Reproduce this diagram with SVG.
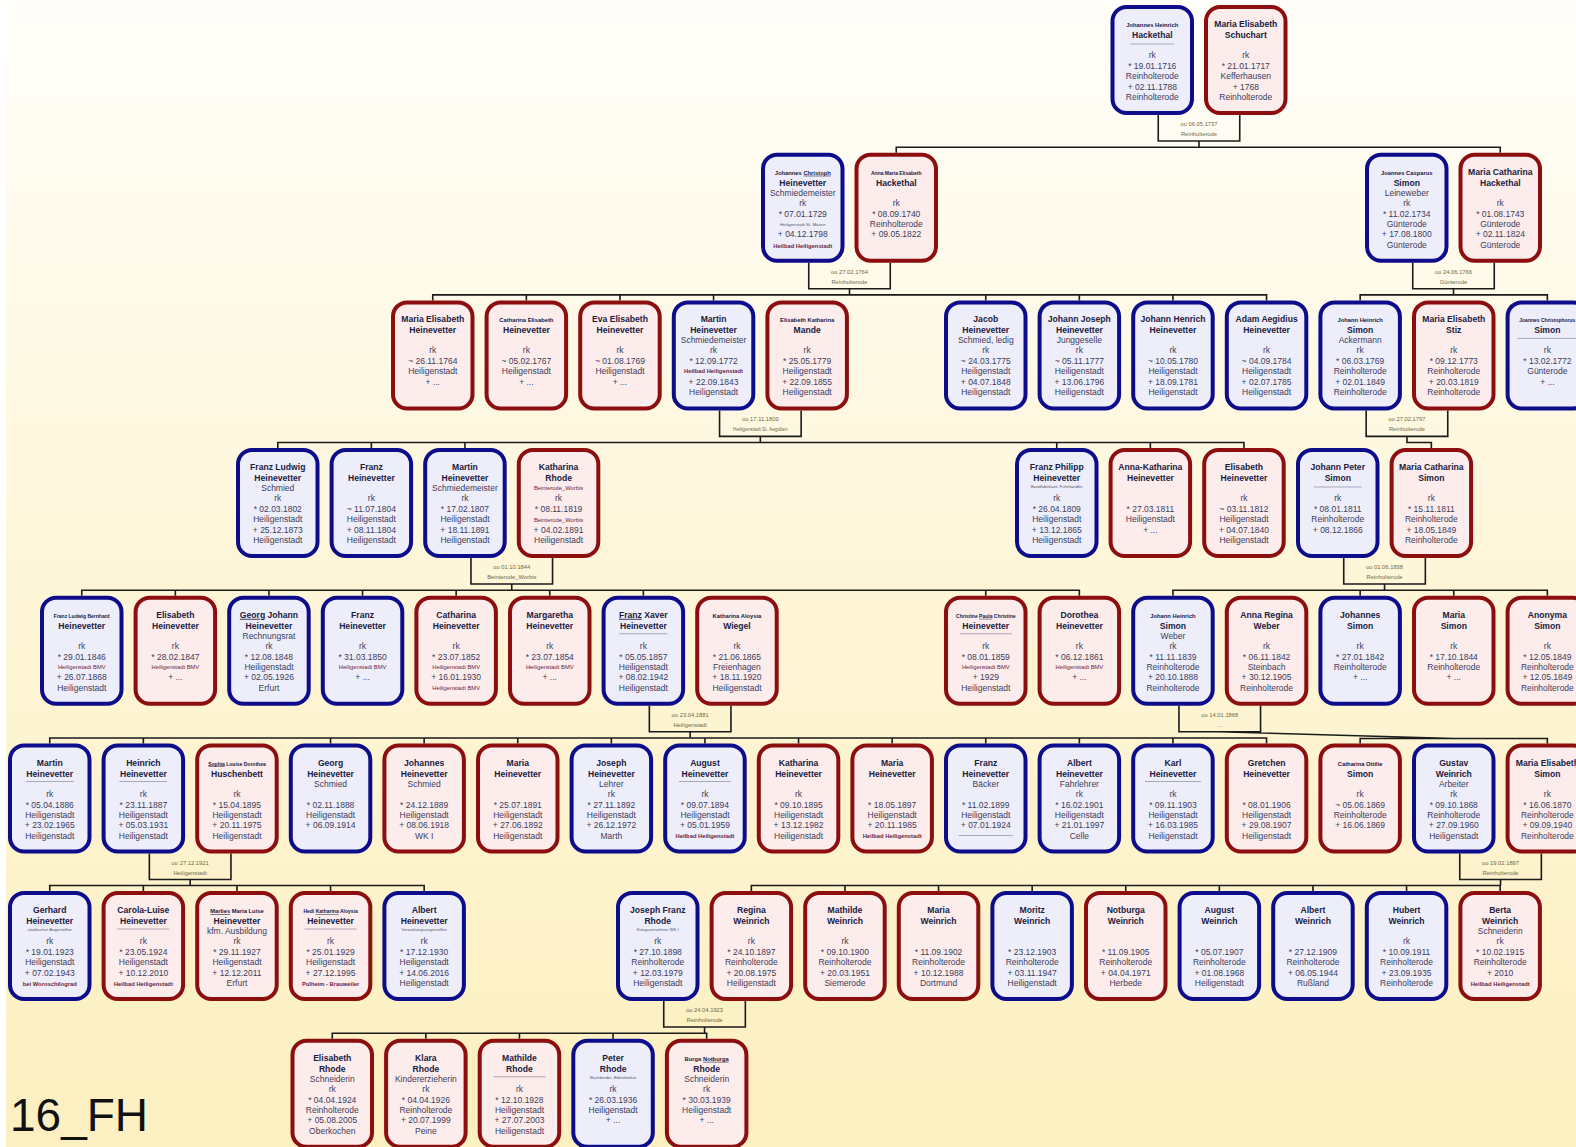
<svg xmlns="http://www.w3.org/2000/svg" width="1576" height="1147" viewBox="0 0 1576 1147">
<defs>
<linearGradient id="bg" x1="0" y1="0" x2="0" y2="1">
<stop offset="0" stop-color="#fffefa"/>
<stop offset="0.5" stop-color="#fef6d8"/>
<stop offset="1" stop-color="#fcefc0"/>
</linearGradient>
</defs>
<style>
.m rect{fill:#eeeefb;stroke:#0d0d8c;stroke-width:4}
.f rect{fill:#fcecec;stroke:#8c0e0e;stroke-width:4}
text{font-family:"Liberation Sans",Arial,sans-serif;text-anchor:middle;fill:#3c3c5a;font-size:8.5px}
.n{font-weight:bold;fill:#20203e;font-size:8.6px}
.s{font-size:5.8px}
.x{font-size:5px}
.p{font-size:5.8px;fill:#6a2444}
.t{font-size:4.3px;fill:#555566}
.u{stroke:#8a8aa0;stroke-width:0.7;fill:none}
.w{font-size:5.8px;fill:#6e6a48}
.c{fill:none;stroke:#1a1a1a;stroke-width:1.6}
.ul{text-decoration:underline}
</style>
<rect width="1576" height="1147" fill="url(#bg)"/>
<rect width="6" height="1147" fill="#ffffff"/>
<g id="connectors">
<path class="c" d="M1158.25 115V141H1239.75V115 M1199 141V147.2 M896.25 152.7V147.2H1500.25V152.7"/>
<path class="c" d="M808.75 262.7V288.7H890.25V262.7 M849.5 288.7V294.9 M432.75 300.4V294.9H1266.55V300.4 M526.35 294.9V300.4 M619.95 294.9V300.4 M713.55 294.9V300.4 M985.75 294.9V300.4 M1079.35 294.9V300.4 M1172.95 294.9V300.4 M1412.75 262.7V288.7H1494.25V262.7 M1453.5 288.7V294.9 M1360.15 300.4V294.9H1547.35V300.4"/>
<path class="c" d="M719.55 410.4V436.4H801.15V410.4 M760.35 436.4V442.5 M277.75 448V442.5H1243.95V448 M371.35 442.5V448 M464.95 442.5V448 M1056.75 442.5V448 M1150.35 442.5V448 M1366.15 410.4V436.4H1447.75V410.4 M1406.95 436.4V442.5H1431.35V448"/>
<path class="c" d="M470.95 558V584H552.55V558 M511.75 584V590.3 M81.75 595.8V590.3H1079.35V595.8 M175.35 590.3V595.8 M268.95 590.3V595.8 M362.55 590.3V595.8 M456.15 590.3V595.8 M549.75 590.3V595.8 M643.35 590.3V595.8 M985.75 590.3V595.8 M1343.75 558V584H1425.35V558 M1384.55 584V590.3 M1172.95 595.8V590.3H1547.35V595.8 M1360.15 590.3V595.8 M1453.75 590.3V595.8"/>
<path class="c" d="M649.35 705.8V731.8H730.95V705.8 M690.15 731.8V738 M49.75 743.5V738H1266.55V743.5 M143.35 738V743.5 M330.55 738V743.5 M424.15 738V743.5 M517.75 738V743.5 M611.35 738V743.5 M704.95 738V743.5 M798.55 738V743.5 M892.15 738V743.5 M985.75 738V743.5 M1079.35 738V743.5 M1172.95 738V743.5 M1178.95 705.8V731.8H1260.55V705.8 M1219.75 731.8L1453.75 738.5 M1360.15 743.5V738.5H1547.35V743.5"/>
<path class="c" d="M149.35 853.5V879.5H230.95V853.5 M190.15 879.5V885.5 M49.75 891V885.5H424.15V891 M143.35 885.5V891 M236.95 885.5V891 M330.55 885.5V891 M1459.75 853.5V879.5H1541.35V853.5 M1500.55 879.5V885.5 M751.35 891V885.5H1500.55 M844.95 885.5V891 M938.55 885.5V891 M1032.15 885.5V891 M1125.75 885.5V891 M1219.35 885.5V891 M1312.95 885.5V891 M1406.55 885.5V891 M1500.15 885.5V891"/>
<path class="c" d="M663.75 1001V1027H745.35V1001 M704.55 1027V1033.3 M332.25 1038.8V1033.3H706.65V1038.8 M425.85 1033.3V1038.8 M519.45 1033.3V1038.8 M613.05 1033.3V1038.8"/>
<g id="marriages">
<text class="w" x="1199" y="126">oo 06.05.1737</text><text class="w" x="1199" y="136">Reinholterode</text>
<text class="w" x="849.5" y="273.7">oo 27.02.1764</text><text class="w" x="849.5" y="283.7">Reinholterode</text>
<text class="w" x="1453.5" y="273.7">oo 24.06.1766</text><text class="w" x="1453.5" y="283.7">Günterode</text>
<text class="w" x="760.35" y="421.4">oo 17.11.1800</text><text class="w" x="760.35" y="431.4" style="font-size:4.8px">Heiligenstadt St. Aegidien</text>
<text class="w" x="1406.95" y="421.4">oo 27.02.1797</text><text class="w" x="1406.95" y="431.4">Reinholterode</text>
<text class="w" x="511.75" y="569">oo 01.10.1844</text><text class="w" x="511.75" y="579">Beinterode_Worbis</text>
<text class="w" x="1384.55" y="569">oo 01.06.1838</text><text class="w" x="1384.55" y="579">Reinholterode</text>
<text class="w" x="690.15" y="716.8">oo 23.04.1881</text><text class="w" x="690.15" y="726.8">Heiligenstadt</text>
<text class="w" x="1219.75" y="716.8">oo 14.01.1868</text><text class="w" x="1219.75" y="726.8">...</text>
<text class="w" x="190.15" y="864.5">oo 27.12.1921</text><text class="w" x="190.15" y="874.5">Heiligenstadt</text>
<text class="w" x="1500.55" y="864.5">oo 19.02.1897</text><text class="w" x="1500.55" y="874.5">Reinholterode</text>
<text class="w" x="704.55" y="1012">oo 24.04.1923</text><text class="w" x="704.55" y="1022">Reinholterode</text>
</g>
</g>
<!-- Row 1 -->
<g id="a1" class="m" transform="translate(1152.25,5)"><rect x="-39.75" y="2" width="79.5" height="106" rx="14"/><text class="n s" y="22">Johannes Heinrich</text><text class="n" y="33">Hackethal</text><path class="u" d="M-22 39h44"/><text y="53">rk</text><text y="64">* 19.01.1716</text><text y="74">Reinholterode</text><text y="84.5">+ 02.11.1788</text><text y="95">Reinholterode</text></g>
<g id="a2" class="f" transform="translate(1245.75,5)"><rect x="-39.75" y="2" width="79.5" height="106" rx="14"/><text class="n" y="22">Maria Elisabeth</text><text class="n" y="33">Schuchart</text><text y="53">rk</text><text y="64">* 21.01.1717</text><text y="74">Kefferhausen</text><text y="84.5">+ 1768</text><text y="95">Reinholterode</text></g>
<!-- Row 2 -->
<g id="a3" class="m" transform="translate(802.75,152.7)"><rect x="-39.75" y="2" width="79.5" height="106" rx="14"/><text class="n s" y="22">Johannes <tspan class="ul">Christoph</tspan></text><text class="n" y="33">Heinevetter</text><text y="43">Schmiedemeister</text><text y="53">rk</text><text y="64">* 07.01.1729</text><text class="t" y="73">Heiligenstadt St. Marien</text><text y="84.5">+ 04.12.1798</text><text class="p n" y="95">Heilbad Heiligenstadt</text></g>
<g id="a4" class="f" transform="translate(896.25,152.7)"><rect x="-39.75" y="2" width="79.5" height="106" rx="14"/><text class="n x" y="22">Anna Maria Elisabeth</text><text class="n" y="33">Hackethal</text><text y="53">rk</text><text y="64">* 08.09.1740</text><text y="74">Reinholterode</text><text y="84.5">+ 09.05.1822</text></g>
<g id="a5" class="m" transform="translate(1406.75,152.7)"><rect x="-39.75" y="2" width="79.5" height="106" rx="14"/><text class="n s" y="22">Joannes Casparus</text><text class="n" y="33">Simon</text><text y="43">Leineweber</text><text y="53">rk</text><text y="64">* 11.02.1734</text><text y="74">Günterode</text><text y="84.5">+ 17.08.1800</text><text y="95">Günterode</text></g>
<g id="a6" class="f" transform="translate(1500.25,152.7)"><rect x="-39.75" y="2" width="79.5" height="106" rx="14"/><text class="n" y="22">Maria Catharina</text><text class="n" y="33">Hackethal</text><text y="53">rk</text><text y="64">* 01.08.1743</text><text y="74">Günterode</text><text y="84.5">+ 02.11.1824</text><text y="95">Günterode</text></g>
<!-- Row 3 -->
<g id="b1" class="f" transform="translate(432.75,300.4)"><rect x="-39.75" y="2" width="79.5" height="106" rx="14"/><text class="n" y="22">Maria Elisabeth</text><text class="n" y="33">Heinevetter</text><text y="53">rk</text><text y="64">~ 26.11.1764</text><text y="74">Heiligenstadt</text><text y="84.5">+ ...</text></g>
<g id="b2" class="f" transform="translate(526.35,300.4)"><rect x="-39.75" y="2" width="79.5" height="106" rx="14"/><text class="n s" y="22">Catharina Elisabeth</text><text class="n" y="33">Heinevetter</text><text y="53">rk</text><text y="64">~ 05.02.1767</text><text y="74">Heiligenstadt</text><text y="84.5">+ ...</text></g>
<g id="b3" class="f" transform="translate(619.95,300.4)"><rect x="-39.75" y="2" width="79.5" height="106" rx="14"/><text class="n" y="22">Eva Elisabeth</text><text class="n" y="33">Heinevetter</text><text y="53">rk</text><text y="64">~ 01.08.1769</text><text y="74">Heiligenstadt</text><text y="84.5">+ ...</text></g>
<g id="b4" class="m" transform="translate(713.55,300.4)"><rect x="-39.75" y="2" width="79.5" height="106" rx="14"/><text class="n" y="22">Martin</text><text class="n" y="33">Heinevetter</text><text y="43">Schmiedemeister</text><text y="53">rk</text><text y="64">* 12.09.1772</text><text class="p n" y="73">Heilbad Heiligenstadt</text><text y="84.5">+ 22.09.1843</text><text y="95">Heiligenstadt</text></g>
<g id="b5" class="f" transform="translate(807.15,300.4)"><rect x="-39.75" y="2" width="79.5" height="106" rx="14"/><text class="n s" y="22">Elisabeth Katharina</text><text class="n" y="33">Mande</text><text y="53">rk</text><text y="64">* 25.05.1779</text><text y="74">Heiligenstadt</text><text y="84.5">+ 22.09.1855</text><text y="95">Heiligenstadt</text></g>
<g id="b6" class="m" transform="translate(985.75,300.4)"><rect x="-39.75" y="2" width="79.5" height="106" rx="14"/><text class="n" y="22">Jacob</text><text class="n" y="33">Heinevetter</text><text y="43">Schmied, ledig</text><text y="53">rk</text><text y="64">~ 24.03.1775</text><text y="74">Heiligenstadt</text><text y="84.5">+ 04.07.1848</text><text y="95">Heiligenstadt</text></g>
<g id="b7" class="m" transform="translate(1079.35,300.4)"><rect x="-39.75" y="2" width="79.5" height="106" rx="14"/><text class="n" y="22">Johann Joseph</text><text class="n" y="33">Heinevetter</text><text y="43">Junggeselle</text><text y="53">rk</text><text y="64">~ 05.11.1777</text><text y="74">Heiligenstadt</text><text y="84.5">+ 13.06.1796</text><text y="95">Heiligenstadt</text></g>
<g id="b8" class="m" transform="translate(1172.95,300.4)"><rect x="-39.75" y="2" width="79.5" height="106" rx="14"/><text class="n" y="22">Johann Henrich</text><text class="n" y="33">Heinevetter</text><text y="53">rk</text><text y="64">~ 10.05.1780</text><text y="74">Heiligenstadt</text><text y="84.5">+ 18.09.1781</text><text y="95">Heiligenstadt</text></g>
<g id="b9" class="m" transform="translate(1266.55,300.4)"><rect x="-39.75" y="2" width="79.5" height="106" rx="14"/><text class="n" y="22">Adam Aegidius</text><text class="n" y="33">Heinevetter</text><text y="53">rk</text><text y="64">~ 04.09.1784</text><text y="74">Heiligenstadt</text><text y="84.5">+ 02.07.1785</text><text y="95">Heiligenstadt</text></g>
<g id="b10" class="m" transform="translate(1360.15,300.4)"><rect x="-39.75" y="2" width="79.5" height="106" rx="14"/><text class="n s" y="22">Johann Heinrich</text><text class="n" y="33">Simon</text><text y="43">Ackermann</text><text y="53">rk</text><text y="64">* 06.03.1769</text><text y="74">Reinholterode</text><text y="84.5">+ 02.01.1849</text><text y="95">Reinholterode</text></g>
<g id="b11" class="f" transform="translate(1453.75,300.4)"><rect x="-39.75" y="2" width="79.5" height="106" rx="14"/><text class="n" y="22">Maria Elisabeth</text><text class="n" y="33">Stiz</text><text y="53">rk</text><text y="64">* 09.12.1773</text><text y="74">Reinholterode</text><text y="84.5">+ 20.03.1819</text><text y="95">Reinholterode</text></g>
<g id="b12" class="m" transform="translate(1547.35,300.4)"><rect x="-39.75" y="2" width="79.5" height="106" rx="14"/><text class="n x" y="22">Joannes Christophorus</text><text class="n" y="33">Simon</text><path class="u" d="M-30 38h60"/><text y="53">rk</text><text y="64">* 13.02.1772</text><text y="74">Günterode</text><text y="84.5">+ ...</text></g>
<!-- Row 4 -->
<g id="c1" class="m" transform="translate(277.75,448)"><rect x="-39.75" y="2" width="79.5" height="106" rx="14"/><text class="n" y="22">Franz Ludwig</text><text class="n" y="33">Heinevetter</text><text y="43">Schmied</text><text y="53">rk</text><text y="64">* 02.03.1802</text><text y="74">Heiligenstadt</text><text y="84.5">+ 25.12.1873</text><text y="95">Heiligenstadt</text></g>
<g id="c2" class="m" transform="translate(371.35,448)"><rect x="-39.75" y="2" width="79.5" height="106" rx="14"/><text class="n" y="22">Franz</text><text class="n" y="33">Heinevetter</text><text y="53">rk</text><text y="64">~ 11.07.1804</text><text y="74">Heiligenstadt</text><text y="84.5">+ 08.11.1804</text><text y="95">Heiligenstadt</text></g>
<g id="c3" class="m" transform="translate(464.95,448)"><rect x="-39.75" y="2" width="79.5" height="106" rx="14"/><text class="n" y="22">Martin</text><text class="n" y="33">Heinevetter</text><text y="43">Schmiedemeister</text><text y="53">rk</text><text y="64">* 17.02.1807</text><text y="74">Heiligenstadt</text><text y="84.5">+ 18.11.1891</text><text y="95">Heiligenstadt</text></g>
<g id="c4" class="f" transform="translate(558.55,448)"><rect x="-39.75" y="2" width="79.5" height="106" rx="14"/><text class="n" y="22">Katharina</text><text class="n" y="33">Rhode</text><text class="p" y="42">Beinterode_Worbis</text><text y="53">rk</text><text y="64">* 08.11.1819</text><text class="p" y="73.5">Beinterode_Worbis</text><text y="84.5">+ 04.02.1891</text><text y="95">Heiligenstadt</text></g>
<g id="c5" class="m" transform="translate(1056.75,448)"><rect x="-39.75" y="2" width="79.5" height="106" rx="14"/><text class="n" y="22">Franz Philipp</text><text class="n" y="33">Heinevetter</text><text class="t" y="40">Bandfabrikant, Fuhrhändler</text><text y="53">rk</text><text y="64">* 26.04.1809</text><text y="74">Heiligenstadt</text><text y="84.5">+ 13.12.1865</text><text y="95">Heiligenstadt</text></g>
<g id="c6" class="f" transform="translate(1150.35,448)"><rect x="-39.75" y="2" width="79.5" height="106" rx="14"/><text class="n" y="22">Anna-Katharina</text><text class="n" y="33">Heinevetter</text><text y="64">* 27.03.1811</text><text y="74">Heiligenstadt</text><text y="84.5">+ ...</text></g>
<g id="c7" class="f" transform="translate(1243.95,448)"><rect x="-39.75" y="2" width="79.5" height="106" rx="14"/><text class="n" y="22">Elisabeth</text><text class="n" y="33">Heinevetter</text><text y="53">rk</text><text y="64">~ 03.11.1812</text><text y="74">Heiligenstadt</text><text y="84.5">+ 04.07.1840</text><text y="95">Heiligenstadt</text></g>
<g id="c8" class="m" transform="translate(1337.75,448)"><rect x="-39.75" y="2" width="79.5" height="106" rx="14"/><text class="n" y="22">Johann Peter</text><text class="n" y="33">Simon</text><path class="u" d="M-24 39h48"/><text y="53">rk</text><text y="64">* 08.01.1811</text><text y="74">Reinholterode</text><text y="84.5">+ 08.12.1866</text></g>
<g id="c9" class="f" transform="translate(1431.35,448)"><rect x="-39.75" y="2" width="79.5" height="106" rx="14"/><text class="n" y="22">Maria Catharina</text><text class="n" y="33">Simon</text><text y="53">rk</text><text y="64">* 15.11.1811</text><text y="74">Reinholterode</text><text y="84.5">+ 18.05.1849</text><text y="95">Reinholterode</text></g>
<!-- Row 5 -->
<g id="d1" class="m" transform="translate(81.75,595.8)"><rect x="-39.75" y="2" width="79.5" height="106" rx="14"/><text class="n x" y="22">Franz Ludwig Bernhard</text><text class="n" y="33">Heinevetter</text><text y="53">rk</text><text y="64">* 29.01.1846</text><text class="p" y="73.5">Heiligenstadt BMV</text><text y="84.5">+ 26.07.1868</text><text y="95">Heiligenstadt</text></g>
<g id="d2" class="f" transform="translate(175.35,595.8)"><rect x="-39.75" y="2" width="79.5" height="106" rx="14"/><text class="n" y="22">Elisabeth</text><text class="n" y="33">Heinevetter</text><text y="53">rk</text><text y="64">* 28.02.1847</text><text class="p" y="73.5">Heiligenstadt BMV</text><text y="84.5">+ ...</text></g>
<g id="d3" class="m" transform="translate(268.95,595.8)"><rect x="-39.75" y="2" width="79.5" height="106" rx="14"/><text class="n" y="22"><tspan class="ul">Georg</tspan> Johann</text><text class="n" y="33">Heinevetter</text><text y="43">Rechnungsrat</text><text y="53">rk</text><text y="64">* 12.08.1848</text><text y="74">Heiligenstadt</text><text y="84.5">+ 02.05.1926</text><text y="95">Erfurt</text></g>
<g id="d4" class="m" transform="translate(362.55,595.8)"><rect x="-39.75" y="2" width="79.5" height="106" rx="14"/><text class="n" y="22">Franz</text><text class="n" y="33">Heinevetter</text><text y="53">rk</text><text y="64">* 31.03.1850</text><text class="p" y="73.5">Heiligenstadt BMV</text><text y="84.5">+ ...</text></g>
<g id="d5" class="f" transform="translate(456.15,595.8)"><rect x="-39.75" y="2" width="79.5" height="106" rx="14"/><text class="n" y="22">Catharina</text><text class="n" y="33">Heinevetter</text><text y="53">rk</text><text y="64">* 23.07.1852</text><text class="p" y="73.5">Heiligenstadt BMV</text><text y="84.5">+ 16.01.1930</text><text class="p" y="94.5">Heiligenstadt BMV</text></g>
<g id="d6" class="f" transform="translate(549.75,595.8)"><rect x="-39.75" y="2" width="79.5" height="106" rx="14"/><text class="n" y="22">Margaretha</text><text class="n" y="33">Heinevetter</text><text y="53">rk</text><text y="64">* 23.07.1854</text><text class="p" y="73.5">Heiligenstadt BMV</text><text y="84.5">+ ...</text></g>
<g id="d7" class="m" transform="translate(643.35,595.8)"><rect x="-39.75" y="2" width="79.5" height="106" rx="14"/><text class="n" y="22"><tspan class="ul">Franz</tspan> Xaver</text><text class="n" y="33">Heinevetter</text><path class="u" d="M-24 38h48"/><text y="53">rk</text><text y="64">* 05.05.1857</text><text y="74">Heiligenstadt</text><text y="84.5">+ 08.02.1942</text><text y="95">Heiligenstadt</text></g>
<g id="d8" class="f" transform="translate(736.95,595.8)"><rect x="-39.75" y="2" width="79.5" height="106" rx="14"/><text class="n s" y="22">Katharina Aloysia</text><text class="n" y="33">Wiegel</text><text y="53">rk</text><text y="64">* 21.06.1865</text><text y="74">Freienhagen</text><text y="84.5">+ 18.11.1920</text><text y="95">Heiligenstadt</text></g>
<g id="d9" class="f" transform="translate(985.75,595.8)"><rect x="-39.75" y="2" width="79.5" height="106" rx="14"/><text class="n x" y="22">Christine <tspan class="ul">Paula</tspan> Christine</text><text class="n" y="33">Heinevetter</text><path class="u" d="M-26 38h52"/><text y="53">rk</text><text y="64">* 08.01.1859</text><text class="p" y="73.5">Heiligenstadt BMV</text><text y="84.5">+ 1929</text><text y="95">Heiligenstadt</text></g>
<g id="d10" class="f" transform="translate(1079.35,595.8)"><rect x="-39.75" y="2" width="79.5" height="106" rx="14"/><text class="n" y="22">Dorothea</text><text class="n" y="33">Heinevetter</text><text y="53">rk</text><text y="64">* 06.12.1861</text><text class="p" y="73.5">Heiligenstadt BMV</text><text y="84.5">+ ...</text></g>
<g id="d11" class="m" transform="translate(1172.95,595.8)"><rect x="-39.75" y="2" width="79.5" height="106" rx="14"/><text class="n s" y="22">Johann Heinrich</text><text class="n" y="33">Simon</text><text y="43">Weber</text><text y="53">rk</text><text y="64">* 11.11.1839</text><text y="74">Reinholterode</text><text y="84.5">+ 20.10.1888</text><text y="95">Reinholterode</text></g>
<g id="d12" class="f" transform="translate(1266.55,595.8)"><rect x="-39.75" y="2" width="79.5" height="106" rx="14"/><text class="n" y="22">Anna Regina</text><text class="n" y="33">Weber</text><text y="53">rk</text><text y="64">* 06.11.1842</text><text y="74">Steinbach</text><text y="84.5">+ 30.12.1905</text><text y="95">Reinholterode</text></g>
<g id="d13" class="m" transform="translate(1360.15,595.8)"><rect x="-39.75" y="2" width="79.5" height="106" rx="14"/><text class="n" y="22">Johannes</text><text class="n" y="33">Simon</text><text y="53">rk</text><text y="64">* 27.01.1842</text><text y="74">Reinholterode</text><text y="84.5">+ ...</text></g>
<g id="d14" class="f" transform="translate(1453.75,595.8)"><rect x="-39.75" y="2" width="79.5" height="106" rx="14"/><text class="n" y="22">Maria</text><text class="n" y="33">Simon</text><text y="53">rk</text><text y="64">* 17.10.1844</text><text y="74">Reinholterode</text><text y="84.5">+ ...</text></g>
<g id="d15" class="f" transform="translate(1547.35,595.8)"><rect x="-39.75" y="2" width="79.5" height="106" rx="14"/><text class="n" y="22">Anonyma</text><text class="n" y="33">Simon</text><text y="53">rk</text><text y="64">* 12.05.1849</text><text y="74">Reinholterode</text><text y="84.5">+ 12.05.1849</text><text y="95">Reinholterode</text></g>
<!-- Row 6 -->
<g id="e0" class="m" transform="translate(49.75,743.5)"><rect x="-39.75" y="2" width="79.5" height="106" rx="14"/><text class="n" y="22">Martin</text><text class="n" y="33">Heinevetter</text><path class="u" d="M-24 38h48"/><text y="53">rk</text><text y="64">* 05.04.1886</text><text y="74">Heiligenstadt</text><text y="84.5">+ 23.02.1965</text><text y="95">Heiligenstadt</text></g>
<g id="e1" class="m" transform="translate(143.35,743.5)"><rect x="-39.75" y="2" width="79.5" height="106" rx="14"/><text class="n" y="22">Heinrich</text><text class="n" y="33">Heinevetter</text><path class="u" d="M-24 38h48"/><text y="53">rk</text><text y="64">* 23.11.1887</text><text y="74">Heiligenstadt</text><text y="84.5">+ 05.03.1931</text><text y="95">Heiligenstadt</text></g>
<g id="e2" class="f" transform="translate(236.95,743.5)"><rect x="-39.75" y="2" width="79.5" height="106" rx="14"/><text class="n x" y="22"><tspan class="ul">Sophia</tspan> Louise Dorothea</text><text class="n" y="33">Huschenbett</text><text y="53">rk</text><text y="64">* 15.04.1895</text><text y="74">Heiligenstadt</text><text y="84.5">+ 20.11.1975</text><text y="95">Heiligenstadt</text></g>
<g id="e3" class="m" transform="translate(330.55,743.5)"><rect x="-39.75" y="2" width="79.5" height="106" rx="14"/><text class="n" y="22">Georg</text><text class="n" y="33">Heinevetter</text><text y="43">Schmied</text><text y="64">* 02.11.1888</text><text y="74">Heiligenstadt</text><text y="84.5">+ 06.09.1914</text></g>
<g id="e4" class="f" transform="translate(424.15,743.5)"><rect x="-39.75" y="2" width="79.5" height="106" rx="14"/><text class="n" y="22">Johannes</text><text class="n" y="33">Heinevetter</text><text y="43">Schmied</text><text y="64">* 24.12.1889</text><text y="74">Heiligenstadt</text><text y="84.5">+ 08.06.1918</text><text y="95">WK I</text></g>
<g id="e5" class="f" transform="translate(517.75,743.5)"><rect x="-39.75" y="2" width="79.5" height="106" rx="14"/><text class="n" y="22">Maria</text><text class="n" y="33">Heinevetter</text><text y="64">* 25.07.1891</text><text y="74">Heiligenstadt</text><text y="84.5">+ 27.06.1892</text><text y="95">Heiligenstadt</text></g>
<g id="e6" class="m" transform="translate(611.35,743.5)"><rect x="-39.75" y="2" width="79.5" height="106" rx="14"/><text class="n" y="22">Joseph</text><text class="n" y="33">Heinevetter</text><text y="43">Lehrer</text><text y="53">rk</text><text y="64">* 27.11.1892</text><text y="74">Heiligenstadt</text><text y="84.5">+ 26.12.1972</text><text y="95">Marth</text></g>
<g id="e7" class="m" transform="translate(704.95,743.5)"><rect x="-39.75" y="2" width="79.5" height="106" rx="14"/><text class="n" y="22">August</text><text class="n" y="33">Heinevetter</text><path class="u" d="M-26 38h52"/><text y="53">rk</text><text y="64">* 09.07.1894</text><text y="74">Heiligenstadt</text><text y="84.5">+ 05.01.1959</text><text class="p n" y="94.5">Heilbad Heiligenstadt</text></g>
<g id="e8" class="f" transform="translate(798.55,743.5)"><rect x="-39.75" y="2" width="79.5" height="106" rx="14"/><text class="n" y="22">Katharina</text><text class="n" y="33">Heinevetter</text><text y="53">rk</text><text y="64">* 09.10.1895</text><text y="74">Heiligenstadt</text><text y="84.5">+ 13.12.1982</text><text y="95">Heiligenstadt</text></g>
<g id="e9" class="f" transform="translate(892.15,743.5)"><rect x="-39.75" y="2" width="79.5" height="106" rx="14"/><text class="n" y="22">Maria</text><text class="n" y="33">Heinevetter</text><text y="64">* 18.05.1897</text><text y="74">Heiligenstadt</text><text y="84.5">+ 20.11.1985</text><text class="p n" y="94.5">Heilbad Heiligenstadt</text></g>
<g id="e10" class="m" transform="translate(985.75,743.5)"><rect x="-39.75" y="2" width="79.5" height="106" rx="14"/><text class="n" y="22">Franz</text><text class="n" y="33">Heinevetter</text><text y="43">Bäcker</text><text y="64">* 11.02.1899</text><text y="74">Heiligenstadt</text><text y="84.5">+ 07.01.1924</text><path class="u" d="M-27 92h54"/></g>
<g id="e11" class="m" transform="translate(1079.35,743.5)"><rect x="-39.75" y="2" width="79.5" height="106" rx="14"/><text class="n" y="22">Albert</text><text class="n" y="33">Heinevetter</text><text y="43">Fahrlehrer</text><text y="53">rk</text><text y="64">* 16.02.1901</text><text y="74">Heiligenstadt</text><text y="84.5">+ 21.01.1997</text><text y="95">Celle</text></g>
<g id="e12" class="m" transform="translate(1172.95,743.5)"><rect x="-39.75" y="2" width="79.5" height="106" rx="14"/><text class="n" y="22">Karl</text><text class="n" y="33">Heinevetter</text><path class="u" d="M-28 38h56"/><text y="53">rk</text><text y="64">* 09.11.1903</text><text y="74">Heiligenstadt</text><text y="84.5">+ 16.03.1985</text><text y="95">Heiligenstadt</text></g>
<g id="e13" class="f" transform="translate(1266.55,743.5)"><rect x="-39.75" y="2" width="79.5" height="106" rx="14"/><text class="n" y="22">Gretchen</text><text class="n" y="33">Heinevetter</text><text y="64">* 08.01.1906</text><text y="74">Heiligenstadt</text><text y="84.5">+ 29.08.1907</text><text y="95">Heiligenstadt</text></g>
<g id="e14" class="f" transform="translate(1360.15,743.5)"><rect x="-39.75" y="2" width="79.5" height="106" rx="14"/><text class="n s" y="22">Catharina Ottilie</text><text class="n" y="33">Simon</text><text y="53">rk</text><text y="64">~ 05.06.1869</text><text y="74">Reinholterode</text><text y="84.5">+ 16.06.1869</text></g>
<g id="e15" class="m" transform="translate(1453.75,743.5)"><rect x="-39.75" y="2" width="79.5" height="106" rx="14"/><text class="n" y="22">Gustav</text><text class="n" y="33">Weinrich</text><text y="43">Arbeiter</text><text y="53">rk</text><text y="64">* 09.10.1868</text><text y="74">Reinholterode</text><text y="84.5">+ 27.09.1960</text><text y="95">Heiligenstadt</text></g>
<g id="e16" class="f" transform="translate(1547.35,743.5)"><rect x="-39.75" y="2" width="79.5" height="106" rx="14"/><text class="n" y="22">Maria Elisabeth</text><text class="n" y="33">Simon</text><text y="53">rk</text><text y="64">* 16.06.1870</text><text y="74">Reinholterode</text><text y="84.5">+ 09.09.1940</text><text y="95">Reinholterode</text></g>
<!-- Row 7 -->
<g id="f0" class="m" transform="translate(49.75,891)"><rect x="-39.75" y="2" width="79.5" height="106" rx="14"/><text class="n" y="22">Gerhard</text><text class="n" y="33">Heinevetter</text><text class="t" y="40">städtischer Angestellter</text><text y="53">rk</text><text y="64">* 19.01.1923</text><text y="74">Heiligenstadt</text><text y="84.5">+ 07.02.1943</text><text class="p n" y="94.5">bei Woroschilograd</text></g>
<g id="f1" class="f" transform="translate(143.35,891)"><rect x="-39.75" y="2" width="79.5" height="106" rx="14"/><text class="n" y="22">Carola-Luise</text><text class="n" y="33">Heinevetter</text><path class="u" d="M-26 38h52"/><text y="53">rk</text><text y="64">* 23.05.1924</text><text y="74">Heiligenstadt</text><text y="84.5">+ 10.12.2010</text><text class="p n" y="94.5">Heilbad Heiligenstadt</text></g>
<g id="f2" class="f" transform="translate(236.95,891)"><rect x="-39.75" y="2" width="79.5" height="106" rx="14"/><text class="n s" y="22"><tspan class="ul">Marlies</tspan> Maria Luise</text><text class="n" y="33">Heinevetter</text><text y="43">kfm. Ausbildung</text><text y="53">rk</text><text y="64">* 29.11.1927</text><text y="74">Heiligenstadt</text><text y="84.5">+ 12.12.2011</text><text y="95">Erfurt</text></g>
<g id="f3" class="f" transform="translate(330.55,891)"><rect x="-39.75" y="2" width="79.5" height="106" rx="14"/><text class="n x" y="22">Hedi <tspan class="ul">Katharina</tspan> Aloysia</text><text class="n" y="33">Heinevetter</text><path class="u" d="M-26 38h52"/><text y="53">rk</text><text y="64">* 25.01.1929</text><text y="74">Heiligenstadt</text><text y="84.5">+ 27.12.1995</text><text class="p n" y="94.5">Pulheim - Brauweiler</text></g>
<g id="f4" class="m" transform="translate(424.15,891)"><rect x="-39.75" y="2" width="79.5" height="106" rx="14"/><text class="n" y="22">Albert</text><text class="n" y="33">Heinevetter</text><text class="t" y="40">Verwaltungsangestellter</text><text y="53">rk</text><text y="64">* 17.12.1930</text><text y="74">Heiligenstadt</text><text y="84.5">+ 14.06.2016</text><text y="95">Heiligenstadt</text></g>
<g id="g0" class="m" transform="translate(657.75,891)"><rect x="-39.75" y="2" width="79.5" height="106" rx="14"/><text class="n" y="22">Joseph Franz</text><text class="n" y="33">Rhode</text><text class="t" y="40">Kriegsversehrter WK I</text><text y="53">rk</text><text y="64">* 27.10.1898</text><text y="74">Reinholterode</text><text y="84.5">+ 12.03.1979</text><text y="95">Heiligenstadt</text></g>
<g id="g1" class="f" transform="translate(751.35,891)"><rect x="-39.75" y="2" width="79.5" height="106" rx="14"/><text class="n" y="22">Regina</text><text class="n" y="33">Weinrich</text><text y="53">rk</text><text y="64">* 24.10.1897</text><text y="74">Reinholterode</text><text y="84.5">+ 20.08.1975</text><text y="95">Heiligenstadt</text></g>
<g id="g2" class="f" transform="translate(844.95,891)"><rect x="-39.75" y="2" width="79.5" height="106" rx="14"/><text class="n" y="22">Mathilde</text><text class="n" y="33">Weinrich</text><text y="53">rk</text><text y="64">* 09.10.1900</text><text y="74">Reinholterode</text><text y="84.5">+ 20.03.1951</text><text y="95">Siemerode</text></g>
<g id="g3" class="f" transform="translate(938.55,891)"><rect x="-39.75" y="2" width="79.5" height="106" rx="14"/><text class="n" y="22">Maria</text><text class="n" y="33">Weinrich</text><text y="64">* 11.09.1902</text><text y="74">Reinholterode</text><text y="84.5">+ 10.12.1988</text><text y="95">Dortmund</text></g>
<g id="g4" class="m" transform="translate(1032.15,891)"><rect x="-39.75" y="2" width="79.5" height="106" rx="14"/><text class="n" y="22">Moritz</text><text class="n" y="33">Weinrich</text><text y="64">* 23.12.1903</text><text y="74">Reinholterode</text><text y="84.5">+ 03.11.1947</text><text y="95">Heiligenstadt</text></g>
<g id="g5" class="f" transform="translate(1125.75,891)"><rect x="-39.75" y="2" width="79.5" height="106" rx="14"/><text class="n" y="22">Notburga</text><text class="n" y="33">Weinrich</text><text y="64">* 11.09.1905</text><text y="74">Reinholterode</text><text y="84.5">+ 04.04.1971</text><text y="95">Herbede</text></g>
<g id="g6" class="m" transform="translate(1219.35,891)"><rect x="-39.75" y="2" width="79.5" height="106" rx="14"/><text class="n" y="22">August</text><text class="n" y="33">Weinrich</text><text y="64">* 05.07.1907</text><text y="74">Reinholterode</text><text y="84.5">+ 01.08.1968</text><text y="95">Heiligenstadt</text></g>
<g id="g7" class="m" transform="translate(1312.95,891)"><rect x="-39.75" y="2" width="79.5" height="106" rx="14"/><text class="n" y="22">Albert</text><text class="n" y="33">Weinrich</text><text y="64">* 27.12.1909</text><text y="74">Reinholterode</text><text y="84.5">+ 06.05.1944</text><text y="95">Rußland</text></g>
<g id="g8" class="m" transform="translate(1406.55,891)"><rect x="-39.75" y="2" width="79.5" height="106" rx="14"/><text class="n" y="22">Hubert</text><text class="n" y="33">Weinrich</text><text y="53">rk</text><text y="64">* 10.09.1911</text><text y="74">Reinholterode</text><text y="84.5">+ 23.09.1935</text><text y="95">Reinholterode</text></g>
<g id="g9" class="f" transform="translate(1500.15,891)"><rect x="-39.75" y="2" width="79.5" height="106" rx="14"/><text class="n" y="22">Berta</text><text class="n" y="33">Weinrich</text><text y="43">Schneiderin</text><text y="53">rk</text><text y="64">* 10.02.1915</text><text y="74">Reinholterode</text><text y="84.5">+ 2010</text><text class="p n" y="94.5">Heilbad Heiligenstadt</text></g>
<!-- Row 8 -->
<g id="h0" class="f" transform="translate(332.25,1038.8)"><rect x="-39.75" y="2" width="79.5" height="106" rx="14"/><text class="n" y="22">Elisabeth</text><text class="n" y="33">Rhode</text><text y="43">Schneiderin</text><text y="53">rk</text><text y="64">* 04.04.1924</text><text y="74">Reinholterode</text><text y="84.5">+ 05.08.2005</text><text y="95">Oberkochen</text></g>
<g id="h1" class="f" transform="translate(425.85,1038.8)"><rect x="-39.75" y="2" width="79.5" height="106" rx="14"/><text class="n" y="22">Klara</text><text class="n" y="33">Rhode</text><text y="43">Kindererzieherin</text><text y="53">rk</text><text y="64">* 04.04.1926</text><text y="74">Reinholterode</text><text y="84.5">+ 20.07.1999</text><text y="95">Peine</text></g>
<g id="h2" class="f" transform="translate(519.45,1038.8)"><rect x="-39.75" y="2" width="79.5" height="106" rx="14"/><text class="n" y="22">Mathilde</text><text class="n" y="33">Rhode</text><path class="u" d="M-26 38h52"/><text y="53">rk</text><text y="64">* 12.10.1928</text><text y="74">Heiligenstadt</text><text y="84.5">+ 27.07.2003</text><text y="95">Heiligenstadt</text></g>
<g id="h3" class="m" transform="translate(613.05,1038.8)"><rect x="-39.75" y="2" width="79.5" height="106" rx="14"/><text class="n" y="22">Peter</text><text class="n" y="33">Rhode</text><text class="t" y="40">Buchbinder, Bibliothekar</text><text y="53">rk</text><text y="64">* 26.03.1936</text><text y="74">Heiligenstadt</text><text y="84.5">+ ...</text></g>
<g id="h4" class="f" transform="translate(706.65,1038.8)"><rect x="-39.75" y="2" width="79.5" height="106" rx="14"/><text class="n s" y="22">Burga <tspan class="ul">Notburga</tspan></text><text class="n" y="33">Rhode</text><text y="43">Schneiderin</text><text y="53">rk</text><text y="64">* 30.03.1939</text><text y="74">Heiligenstadt</text><text y="84.5">+ ...</text></g>
<text x="10" y="1131" style="font-size:46px;text-anchor:start;fill:#111111">16_FH</text>
</svg>
